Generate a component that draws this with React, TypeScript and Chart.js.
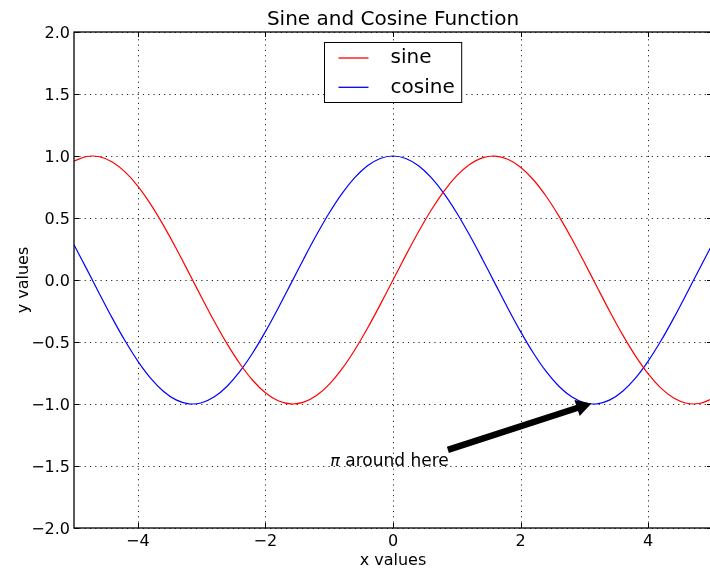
import React, { useEffect, useRef } from 'react';
import { Chart, registerables } from 'chart.js';

Chart.register(...registerables);

const X_VALUES = [-5, -4.8, -4.6, -4.4, -4.2, -4, -3.8, -3.6, -3.4, -3.2, -3, -2.8, -2.6, -2.4, -2.2, -2, -1.8, -1.6, -1.4, -1.2, -1, -0.8, -0.6, -0.4, -0.2, 0, 0.2, 0.4, 0.6, 0.8, 1, 1.2, 1.4, 1.6, 1.8, 2, 2.2, 2.4, 2.6, 2.8, 3, 3.2, 3.4, 3.6, 3.8, 4, 4.2, 4.4, 4.6, 4.8, 5];
const SINE_VALUES = [0.9589, 0.9962, 0.9937, 0.9516, 0.8716, 0.7568, 0.6119, 0.4425, 0.2555, 0.0584, -0.1411, -0.335, -0.5155, -0.6755, -0.8085, -0.9093, -0.9738, -0.9996, -0.9854, -0.932, -0.8415, -0.7174, -0.5646, -0.3894, -0.1987, 0, 0.1987, 0.3894, 0.5646, 0.7174, 0.8415, 0.932, 0.9854, 0.9996, 0.9738, 0.9093, 0.8085, 0.6755, 0.5155, 0.335, 0.1411, -0.0584, -0.2555, -0.4425, -0.6119, -0.7568, -0.8716, -0.9516, -0.9937, -0.9962, -0.9589];
const COSINE_VALUES = [0.2837, 0.0875, -0.1122, -0.3073, -0.4903, -0.6536, -0.791, -0.8968, -0.9668, -0.9983, -0.99, -0.9422, -0.8569, -0.7374, -0.5885, -0.4161, -0.2272, -0.0292, 0.17, 0.3624, 0.5403, 0.6967, 0.8253, 0.9211, 0.9801, 1, 0.9801, 0.9211, 0.8253, 0.6967, 0.5403, 0.3624, 0.17, -0.0292, -0.2272, -0.4161, -0.5885, -0.7374, -0.8569, -0.9422, -0.99, -0.9983, -0.9668, -0.8968, -0.791, -0.6536, -0.4903, -0.3073, -0.1122, 0.0875, 0.2837];

const X_TICKS = [-4, -2, 0, 2, 4];
const Y_TICKS = [-2, -1.5, -1, -0.5, 0, 0.5, 1, 1.5, 2];
const X_RANGE = [-5, 5];
const Y_RANGE = [-2, 2];
const SERIES_LABELS = ['sine', 'cosine'];
const SERIES_COLORS = ['#ff0000', '#0000ff'];
const TITLE = 'Sine and Cosine Function';
const X_TITLE = 'x values';
const Y_TITLE = 'y values';
const ANNOTATION_SYMBOL = 'π';
const ANNOTATION_TEXT = ' around here';
const ANNOTATION_TEXT_AT = [-1, -1.5];
const ANNOTATION_ARROW_FROM = [0.86, -1.37];
const ANNOTATION_ARROW_TO = [3.11, -0.995];

const FONT = '"DejaVu Sans", sans-serif';
const minus = (s: string) => s.replace('-', '\u2212');

const decorPlugin = {
  id: 'decor',
  beforeDatasetsDraw(chart: any) {
    const { ctx, chartArea: a, scales } = chart;
    const xs = scales.x;
    const ys = scales.y;
    ctx.save();
    ctx.strokeStyle = 'rgba(0,0,0,0.85)';
    ctx.lineWidth = 1;
    ctx.setLineDash([1.2, 4.1]);
    ctx.beginPath();
    for (const v of X_TICKS) {
      const px = Math.round(xs.getPixelForValue(v)) + 0.5;
      ctx.moveTo(px, a.bottom);
      ctx.lineTo(px, a.top);
    }
    for (const v of Y_TICKS) {
      const py = Math.round(ys.getPixelForValue(v)) + 0.5;
      ctx.moveTo(a.left, py);
      ctx.lineTo(a.right, py);
    }
    ctx.stroke();
    ctx.restore();
  },
  afterDatasetsDraw(chart: any) {
    const { ctx, chartArea: a, scales } = chart;
    const xs = scales.x;
    const ys = scales.y;
    ctx.save();
    // title centred over the plot area
    ctx.fillStyle = '#000';
    ctx.font = '20px ' + FONT;
    ctx.textAlign = 'center';
    ctx.textBaseline = 'alphabetic';
    ctx.fillText(TITLE, (a.left + a.right) / 2, 25);

    // spines
    ctx.strokeStyle = '#000';
    ctx.lineWidth = 1.3;
    ctx.strokeRect(a.left, a.top, a.right - a.left, a.bottom - a.top);
    // inward ticks
    ctx.lineWidth = 1;
    ctx.beginPath();
    const tl = 5;
    for (const v of X_TICKS) {
      const px = Math.round(xs.getPixelForValue(v)) + 0.5;
      ctx.moveTo(px, a.bottom);
      ctx.lineTo(px, a.bottom - tl);
      ctx.moveTo(px, a.top);
      ctx.lineTo(px, a.top + tl);
    }
    for (const v of Y_TICKS) {
      const py = Math.round(ys.getPixelForValue(v)) + 0.5;
      ctx.moveTo(a.left, py);
      ctx.lineTo(a.left + tl, py);
      ctx.moveTo(a.right, py);
      ctx.lineTo(a.right - tl, py);
    }
    ctx.stroke();

    // legend (upper center)
    ctx.font = '20px ' + FONT;
    const textW = Math.max(...SERIES_LABELS.map((s) => ctx.measureText(s).width));
    const padL = 14, lineLen = 30, gap = 22, padR = 7;
    const w = padL + lineLen + gap + textW + padR;
    const h = 60;
    const cx = (a.left + a.right) / 2;
    const lx = Math.round(cx - w / 2) + 0.5;
    const ly = a.top + 10.5;
    ctx.fillStyle = '#fff';
    ctx.fillRect(lx, ly, w, h);
    ctx.strokeStyle = '#000';
    ctx.lineWidth = 1;
    ctx.strokeRect(lx, ly, w, h);
    SERIES_LABELS.forEach((label, i) => {
      const ry = ly + 15.5 + i * 29.3;
      ctx.strokeStyle = SERIES_COLORS[i];
      ctx.lineWidth = 1.3;
      ctx.beginPath();
      ctx.moveTo(lx + padL, ry);
      ctx.lineTo(lx + padL + lineLen, ry);
      ctx.stroke();
      ctx.fillStyle = '#000';
      ctx.textAlign = 'left';
      ctx.textBaseline = 'middle';
      ctx.fillText(label, lx + padL + lineLen + gap, ry);
    });

    // annotation text
    const tx = xs.getPixelForValue(ANNOTATION_TEXT_AT[0]);
    const ty = ys.getPixelForValue(ANNOTATION_TEXT_AT[1]);
    ctx.fillStyle = '#000';
    ctx.textBaseline = 'alphabetic';
    ctx.textAlign = 'left';
    ctx.font = 'italic 16px ' + FONT;
    ctx.fillText(ANNOTATION_SYMBOL, tx + 1, ty);
    const sw = ctx.measureText(ANNOTATION_SYMBOL).width;
    ctx.font = '17px ' + FONT;
    ctx.fillText(ANNOTATION_TEXT, tx + 1 + sw, ty);

    // arrow
    const fx = xs.getPixelForValue(ANNOTATION_ARROW_FROM[0]);
    const fy = ys.getPixelForValue(ANNOTATION_ARROW_FROM[1]);
    const ex = xs.getPixelForValue(ANNOTATION_ARROW_TO[0]);
    const ey = ys.getPixelForValue(ANNOTATION_ARROW_TO[1]);
    const dx = ex - fx, dy = ey - fy;
    const len = Math.hypot(dx, dy);
    const ux = dx / len, uy = dy / len;
    const nx = -uy, ny = ux;
    const hl = 0.1 * len;
    const hw = 8.5;
    const shw = 3.2;
    const bx = ex - ux * hl, by = ey - uy * hl;
    ctx.fillStyle = '#000';
    ctx.beginPath();
    ctx.moveTo(fx + nx * shw, fy + ny * shw);
    ctx.lineTo(bx + nx * shw, by + ny * shw);
    ctx.lineTo(bx + nx * hw, by + ny * hw);
    ctx.lineTo(ex, ey);
    ctx.lineTo(bx - nx * hw, by - ny * hw);
    ctx.lineTo(bx - nx * shw, by - ny * shw);
    ctx.lineTo(fx - nx * shw, fy - ny * shw);
    ctx.closePath();
    ctx.fill();
    ctx.restore();
  },
};

export default function App() {
  const ref = useRef<HTMLCanvasElement>(null);
  useEffect(() => {
    document.body.style.margin = '0';
    const canvas = ref.current!;
    Chart.defaults.font.family = FONT;
    Chart.defaults.color = '#000';
    const chart = new Chart(canvas, {
      type: 'line',
      data: {
        datasets: [
          {
            label: SERIES_LABELS[0],
            data: X_VALUES.map((x, i) => ({ x, y: SINE_VALUES[i] })),
            borderColor: SERIES_COLORS[0],
            borderWidth: 1.2,
            pointRadius: 0,
            tension: 0.33,
            fill: false,
          },
          {
            label: SERIES_LABELS[1],
            data: X_VALUES.map((x, i) => ({ x, y: COSINE_VALUES[i] })),
            borderColor: SERIES_COLORS[1],
            borderWidth: 1.2,
            pointRadius: 0,
            tension: 0.33,
            fill: false,
          },
        ],
      },
      options: {
        animation: false,
        responsive: false,
        devicePixelRatio: 1,
        layout: { padding: { top: 32, left: 0, right: 0, bottom: 0 } },
        plugins: {
          legend: { display: false },
          tooltip: { enabled: false },
          title: { display: false },
        },
        scales: {
          x: {
            type: 'linear',
            min: X_RANGE[0],
            max: X_RANGE[1],
            afterBuildTicks: (s: any) => {
              s.ticks = X_TICKS.map((value) => ({ value }));
            },
            afterFit: (s: any) => {
              s.height = 40;
            },
            grid: { display: false, drawTicks: false },
            border: { display: false },
            ticks: {
              font: { size: 16, family: FONT },
              padding: 4,
              maxRotation: 0,
              autoSkip: false,
              callback: (v: any) => minus(String(v)),
            },
            title: {
              display: true,
              text: X_TITLE,
              font: { size: 16, family: FONT, lineHeight: 0.875 },
              padding: { top: 0, bottom: 0 },
            },
          },
          y: {
            type: 'linear',
            min: Y_RANGE[0],
            max: Y_RANGE[1],
            afterBuildTicks: (s: any) => {
              s.ticks = Y_TICKS.map((value) => ({ value }));
            },
            afterFit: (s: any) => {
              s.width = 74;
            },
            grid: { display: false, drawTicks: false },
            border: { display: false },
            ticks: {
              font: { size: 16, family: FONT },
              padding: 4,
              labelOffset: 1.5,
              autoSkip: false,
              callback: (v: any) => minus(Number(v).toFixed(1)),
            },
            title: {
              display: true,
              text: Y_TITLE,
              font: { size: 16, family: FONT, lineHeight: 1.2 },
              padding: { top: 14, bottom: 0 },
            },
          },
        },
      },
      plugins: [decorPlugin],
    } as any);
    return () => chart.destroy();
  }, []);
  return (
    <div style={{ width: 710, height: 568, overflow: 'hidden', background: '#fff' }}>
      <canvas ref={ref} width={712} height={568} style={{ display: 'block' }} />
    </div>
  );
}
